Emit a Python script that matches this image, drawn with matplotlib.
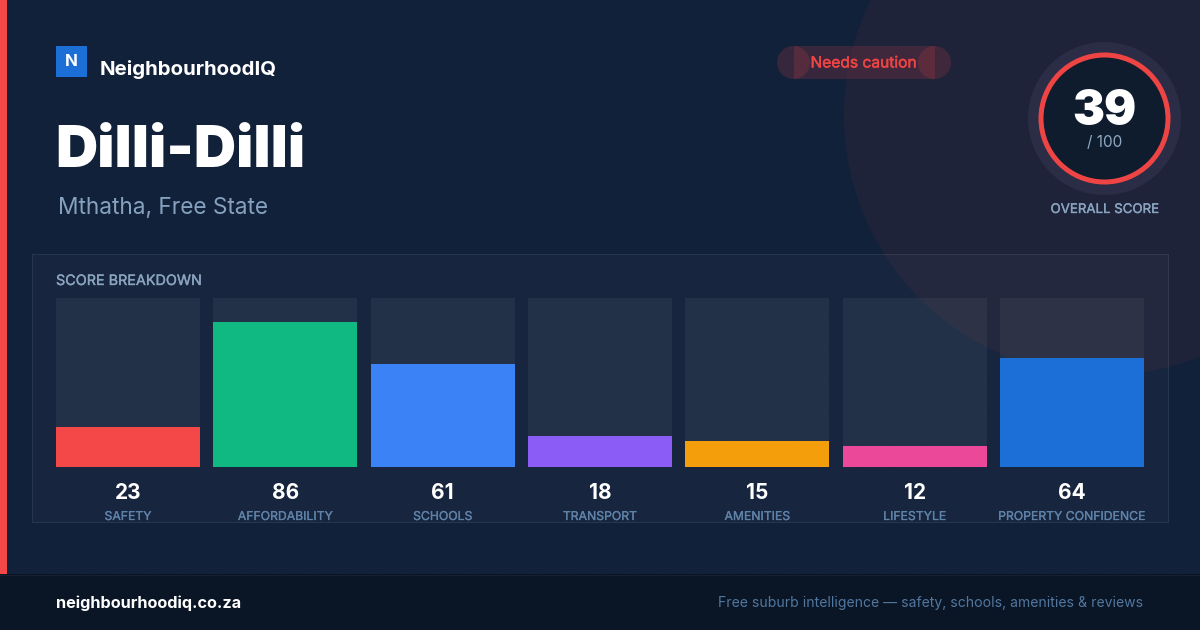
import numpy as np
import matplotlib
matplotlib.use("Agg")
import matplotlib.pyplot as plt
import matplotlib.patheffects as pe
from matplotlib.patches import Circle, Rectangle

# ---- data ----
categories = ["SAFETY", "AFFORDABILITY", "SCHOOLS", "TRANSPORT", "AMENITIES", "LIFESTYLE", "PROPERTY CONFIDENCE"]
scores = [23, 86, 61, 18, 15, 12, 64]
bar_colors = ["#F44747", "#10B981", "#3B82F6", "#8B5CF6", "#F59E0B", "#EC4899", "#1D6FD8"]
overall = 39
overall_max = 100
suburb = "Dilli-Dilli"
place = "Mthatha, Free State"
brand = "NeighbourhoodIQ"
badge = "Needs caution"
site = "neighbourhoodiq.co.za"
tagline = "Free suburb intelligence \u2014 safety, schools, amenities & reviews"

W, H = 1200, 630
FONT = "Inter"
plt.rcParams["font.family"] = [FONT, "DejaVu Sans"]
BG = "#12213A"
RED = "#F44747"


def heavier(color, width):
    return [pe.withStroke(linewidth=width, foreground=color)]


fig = plt.figure(figsize=(W / 100, H / 100), dpi=100, facecolor=BG)

# full-figure canvas in pixel coordinates, y downward
bg = fig.add_axes([0, 0, 1, 1])
bg.set_xlim(0, W)
bg.set_ylim(H, 0)
bg.axis("off")

# large soft circle, top right
bg.add_patch(Circle((1104, 115), 260, fc="#F44747", alpha=0.055, ec="none", zorder=1))

# faint dot grid
gx, gy = np.meshgrid(np.arange(24, W, 32), np.arange(24, 574, 32))
bg.scatter(gx.ravel(), gy.ravel(), s=1.2, c="#FFFFFF", alpha=0.03, linewidths=0, zorder=2)

# accent stripe + footer
bg.add_patch(Rectangle((0, 0), 7, 574, fc=RED, ec="none", zorder=5))
bg.add_patch(Rectangle((0, 574), W, 56, fc="#0A1525", ec="none", zorder=5))
bg.plot([0, W], [574.5, 574.5], color="#16202F", lw=0.72, zorder=6)

# panel
bg.add_patch(Rectangle((32, 254), 1137, 269, fc="#FFFFFF", alpha=0.025, ec="none", zorder=3))
frame = Rectangle((32.5, 254.5), 1136, 268, fc="none", ec="#FFFFFF", alpha=0.075, lw=0.72, zorder=3)
frame.set_snap(False)
bg.add_patch(frame)

# logo
bg.add_patch(Rectangle((56, 46), 31, 31, fc="#1D6FD8", ec="none", zorder=5))
bg.text(71.5, 66.5, "N", color="white", fontsize=12.2, fontweight="bold", ha="center", va="baseline", zorder=6)
bg.text(100, 75, brand, color="white", fontsize=14.7, fontweight="bold", ha="left", va="baseline", zorder=6)

# heading
bg.text(55.3, 167, suburb, color="white", fontsize=42.1, fontweight=900, ha="left", va="baseline", zorder=6)
bg.text(58, 214, place, color="#86A1BE", fontsize=16.3, ha="left", va="baseline", zorder=6)

# badge pill
bg.add_patch(Rectangle((793.5, 46), 141, 33, fc=RED, alpha=0.16, ec="none", zorder=4))
for cx in (793.5, 934.5):
    bg.add_patch(Circle((cx, 62.5), 16.5, fc=RED, alpha=0.16, ec="none", zorder=4))
bg.text(863.5, 67.5, badge, color="#EF4444", fontsize=11.2, ha="center", va="baseline", zorder=6,
        path_effects=heavier("#EF4444", 0.35))

# gauge
bg.add_patch(Circle((1104.5, 118.5), 76.5, fc="#2A2D45", ec="none", zorder=4))
bg.add_patch(Circle((1104.5, 118.5), 63.5, fc="#0F1C2E", ec="#EF4444", lw=3.6, zorder=5))
bg.text(1104.5, 125, str(overall), color="white", fontsize=34.5, fontweight=900, ha="center", va="baseline", zorder=6)
bg.text(1104.5, 147, f"/ {overall_max}", color="#8FA8C4", fontsize=11.0, ha="center", va="baseline", zorder=6)
bg.text(1104.5, 213, "OVERALL SCORE", color="#8AA4C0", fontsize=9.55, ha="center", va="baseline", zorder=6,
        path_effects=heavier("#8AA4C0", 0.25))

bg.text(56, 285, "SCORE BREAKDOWN", color="#8AA4C0", fontsize=10.35, ha="left", va="baseline", zorder=6,
        path_effects=heavier("#8AA4C0", 0.25))

# footer text
bg.text(56, 608, site, color="white", fontsize=11.7, fontweight="bold", ha="left", va="baseline", zorder=7)
bg.text(1143.5, 607, tagline, color="#52779F", fontsize=10.08, ha="right", va="baseline", zorder=7)

# bars: axes spans the track area (y 298..467 px), value scale 0..100
pitch = (1144 - 56 - 144) / 6
half = 72 / pitch
low = -0.58
ax = fig.add_axes([56 / W, 1 - 467 / H, (1144 - 56) / W, (467 - 298) / H])
ax.patch.set_alpha(0)
ax.axis("off")
ax.set_xlim(-half, len(scores) - 1 + half)
ax.set_ylim(low, overall_max)
x = np.arange(len(scores))
width = 144 / pitch
ax.bar(x, [overall_max - low] * len(scores), bottom=low, width=width, color="#FFFFFF", alpha=0.05, linewidth=0, zorder=1)
ax.bar(x, np.array(scores) - low, bottom=low, width=width, color=bar_colors, linewidth=0, zorder=2)

unit = (467 - 298) / (overall_max - low)
y_px = lambda p: low + (467 - p) / unit
for xi, s, c in zip(x, scores, categories):
    ax.text(xi, y_px(499), str(s), color="white", fontsize=15, fontweight="bold", ha="center", va="baseline", clip_on=False)
    ax.text(xi, y_px(520), c, color="#5F82A8", fontsize=8.8, ha="center", va="baseline", clip_on=False,
            path_effects=heavier("#5F82A8", 0.2))

fig.savefig("out.png", dpi=100, facecolor=BG)
